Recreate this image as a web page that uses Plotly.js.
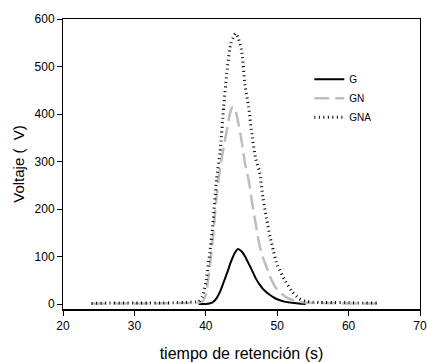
<!DOCTYPE html>
<html>
<head>
<meta charset="utf-8">
<script src="https://cdn.plot.ly/plotly-3.0.1.min.js"></script>
<style>html,body{margin:0;padding:0;background:#fff;}#chart{width:427px;height:362px;}</style>
</head>
<body>
<div id="chart"></div>
<script>
// Retention time (s) and voltage for each sample
var timeG = [39, 40, 40.5, 41, 41.5, 42, 42.5, 43, 43.5, 44, 44.5, 45, 45.5, 46, 46.5, 47, 47.5, 48, 48.5, 49, 49.5, 50, 51, 52, 53, 54];
var voltG = [0, 0, 1, 4, 12, 26, 46, 66, 88, 106, 116, 111, 100, 85, 70, 54, 42, 32, 25, 19, 14, 10, 5, 2.5, 1, 0];

var timeGN = [24, 28, 32, 36, 38, 39, 39.5, 40, 40.5, 41, 41.5, 42, 42.5, 43, 43.5, 43.8, 44.2, 44.5, 45, 45.5, 46, 46.5, 47, 47.5, 48, 48.5, 49, 49.5, 50, 51, 52, 53, 54, 56, 60, 64];
var voltGN = [1, 1, 1, 2, 2, 3, 5, 20, 70, 140, 225, 285, 330, 370, 408, 415, 405, 385, 345, 295, 261, 212, 168, 125, 98, 78, 58, 42, 30, 17, 9, 5, 3, 2, 1, 1];

var timeGNA = [24, 26, 28, 30, 32, 34, 36, 37, 38, 38.5, 39, 39.5, 40, 40.5, 41, 41.5, 42, 42.5, 43, 43.5, 44, 44.2, 44.5, 45, 45.5, 46, 46.5, 47, 47.5, 48, 48.5, 49, 49.5, 50, 51, 52, 53, 54, 55, 56, 58, 60, 62, 64];
var voltGNA = [1, 2, 2, 2, 2, 2, 3, 3, 4, 4, 5, 15, 45, 100, 170, 262, 320, 415, 495, 548, 566, 570, 562, 535, 460, 415, 352, 305, 280, 225, 180, 142, 110, 82, 52, 28, 12, 6, 4, 3, 3, 3, 2, 2];

var seriesNames = ['G', 'GN', 'GNA'];
var xTicks = [20, 30, 40, 50, 60, 70];
var yTicks = [0, 100, 200, 300, 400, 500, 600];

var traces = [
  {x: timeG, y: voltG, name: seriesNames[0], type: 'scatter', mode: 'lines',
   line: {color: '#000000', width: 2, shape: 'spline', smoothing: 0.6}},
  {x: timeGN, y: voltGN, name: seriesNames[1], type: 'scatter', mode: 'lines',
   line: {color: '#bdbdbd', width: 2.5, dash: '15px,6px', shape: 'spline', smoothing: 0.6}},
  {x: timeGNA, y: voltGNA, name: seriesNames[2], type: 'scatter', mode: 'lines',
   line: {color: '#000000', width: 3, dash: '1px,3.5px', shape: 'spline', smoothing: 0.6}}
];

var layout = {
  width: 427, height: 362,
  margin: {l: 63, r: 7, t: 19, b: 53},
  paper_bgcolor: '#ffffff', plot_bgcolor: '#ffffff',
  font: {family: 'Liberation Sans, Arial, sans-serif', size: 12, color: '#000'},
  showlegend: true,
  legend: {x: 0.69, y: 0.842, xanchor: 'left', yanchor: 'top', bgcolor: 'rgba(0,0,0,0)',
           font: {size: 10, color: '#000'}, tracegroupgap: 0, itemwidth: 30},
  xaxis: {
    range: [20, 70], tickmode: 'array', tickvals: xTicks, ticktext: xTicks.map(String),
    ticks: 'outside', ticklen: 5, tickwidth: 1, tickcolor: '#000',
    showline: true, linecolor: '#000', linewidth: 1.5, mirror: true,
    showgrid: false, zeroline: false,
    title: {text: 'tiempo de retención (s)', font: {size: 16}, standoff: 16}
  },
  yaxis: {
    range: [-10.5, 600], tickmode: 'array', tickvals: yTicks, ticktext: yTicks.map(String),
    ticks: 'outside', ticklen: 5, tickwidth: 1, tickcolor: '#000',
    showline: true, linecolor: '#000', linewidth: 1, mirror: true,
    showgrid: false, zeroline: false,
    title: {text: 'Voltaje (  V)', font: {size: 15}, standoff: 6}
  }
};

Plotly.newPlot('chart', traces, layout, {displayModeBar: false, staticPlot: true});
</script>
</body>
</html>
